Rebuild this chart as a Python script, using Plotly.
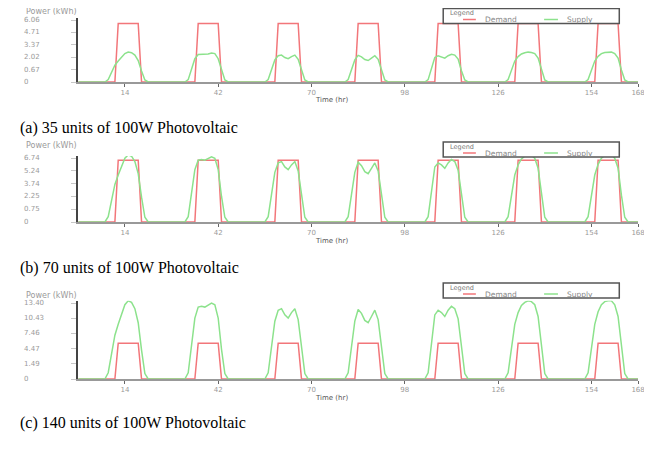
import plotly.graph_objects as go

# ---- data -------------------------------------------------------------
HOURS = list(range(169))          # one week, hourly
PROFILE_START = 8                 # first hour of each day covered by the profiles
TIME_TICKS = [14, 42, 70, 98, 126, 154, 168]

CAPTIONS = [
    "(a) 35 units of 100W Photovoltaic",
    "(b) 70 units of 100W Photovoltaic",
    "(c) 140 units of 100W Photovoltaic",
]
Y_TICK_TEXT = [
    ["0", "0.67", "2.02", "3.37", "4.71", "6.06"],
    ["0", "0.75", "2.25", "3.74", "5.24", "6.74"],
    ["0", "1.49", "4.47", "7.46", "10.43", "13.40"],
]
Y_TICK_STEP = [1.212, 1.348, 2.68]

# demand: same daily shape, hours 8..21
DEMAND_SHAPE = [0, 0, 0, 0, 1, 1, 1, 1, 1, 1, 1, 0, 0, 0]
DEMAND_KWH = [5.71, 6.50, 6.30]

# supply: relative daily shape for each of the 7 days, hours 8..21
SUPPLY_DAY1 = [0, 0.08, 0.35, 0.56, 0.70, 0.84, 0.95, 1.00, 0.98, 0.90, 0.72, 0.37, 0.07, 0]
SUPPLY_DAY2 = [0, 0.08, 0.42, 0.78, 0.92, 0.93, 0.92, 0.94, 0.97, 0.95, 0.78, 0.38, 0.07, 0]
SUPPLY_DAY3 = [0, 0.08, 0.42, 0.74, 0.88, 0.90, 0.82, 0.78, 0.85, 0.90, 0.76, 0.38, 0.07, 0]
SUPPLY_DAY4 = [0, 0.08, 0.42, 0.74, 0.89, 0.84, 0.75, 0.72, 0.80, 0.88, 0.76, 0.38, 0.07, 0]
SUPPLY_DAY5 = [0, 0.08, 0.48, 0.82, 0.88, 0.85, 0.80, 0.88, 0.93, 0.90, 0.77, 0.38, 0.07, 0]
SUPPLY_DAY6 = [0, 0.08, 0.42, 0.70, 0.85, 0.94, 0.98, 1.00, 0.99, 0.95, 0.80, 0.40, 0.07, 0]
SUPPLY_DAY7 = [0, 0.08, 0.42, 0.70, 0.86, 0.95, 0.99, 1.00, 1.00, 0.95, 0.80, 0.40, 0.07, 0]
SUPPLY_DAYS = [SUPPLY_DAY1, SUPPLY_DAY2, SUPPLY_DAY3, SUPPLY_DAY4,
               SUPPLY_DAY5, SUPPLY_DAY6, SUPPLY_DAY7]
SUPPLY_PEAK_KWH = [2.92, 7.07, 13.78]


def week(day_shapes, scale):
    out = [0.0] * len(HOURS)
    for d, shape in enumerate(day_shapes):
        for i, v in enumerate(shape):
            out[24 * d + PROFILE_START + i] = v * scale
    return out


# ---- layout, in page pixels (the page body has an 8px margin) ----------
OFF = 8
W, H = 652 - OFF, 452 - OFF

BASELINE = [82, 222, 379]
STEP_PX = [12.4, 12.8, 15.2]
POWER_Y = [11, 146, 295]
TIME_Y = [100, 241, 398]
CAPTION_Y = [128, 268, 423]
LEGEND_TOP = [8.5, 142, 283]
X_LEFT, X_RIGHT = 79, 645

RED = "rgb(242,118,122)"
GREEN = "rgb(140,226,140)"
GREY_TEXT = "#9a9a9a"
TICK_FONT = dict(family="DejaVu Sans", size=7, color=GREY_TEXT)


def px(x):
    return (x - OFF) / W


def py(y):
    return 1 - (y - OFF) / H


fig = go.Figure()
annotations = []
shapes = []
layout = {}

for p in range(3):
    sfx = "" if p == 0 else str(p + 1)
    xa, ya = "x" + sfx, "y" + sfx
    step = Y_TICK_STEP[p]
    top_steps = 5.15
    b = BASELINE[p]
    top_px = b - top_steps * STEP_PX[p]

    fig.add_trace(go.Scatter(
        x=HOURS, y=week([DEMAND_SHAPE] * 7, DEMAND_KWH[p]), mode="lines",
        name="Demand", line=dict(color=RED, width=1.5),
        xaxis=xa, yaxis=ya, cliponaxis=False, showlegend=False,
    ))
    fig.add_trace(go.Scatter(
        x=HOURS, y=week(SUPPLY_DAYS, SUPPLY_PEAK_KWH[p]), mode="lines",
        name="Supply", line=dict(color=GREEN, width=1.5),
        xaxis=xa, yaxis=ya, cliponaxis=False, showlegend=False,
    ))

    layout["xaxis" + sfx] = dict(
        domain=[px(X_LEFT), px(X_RIGHT)], anchor=ya, range=[0, 168],
        tickvals=TIME_TICKS, ticks="outside", ticklen=3, tickcolor="#666",
        tickfont=TICK_FONT, ticklabeloverflow="allow", showline=True,
        linecolor="#999", linewidth=1.5, showgrid=False, zeroline=False,
        layer="above traces",
    )
    layout["yaxis" + sfx] = dict(
        domain=[py(b), py(top_px)], anchor=xa, range=[0, top_steps * step],
        tickvals=[k * step for k in range(6)], ticks="outside", ticklen=5,
        tickcolor="#c8c8c8", showticklabels=False, showline=True,
        linecolor="#444", linewidth=1.5, showgrid=False, zeroline=False,
    )

    for k, label in enumerate(Y_TICK_TEXT[p]):
        annotations.append(dict(
            xref="paper", yref=ya, x=px(22), y=k * step, text=label,
            showarrow=False, xanchor="left", yanchor="middle", font=TICK_FONT,
        ))
    annotations.append(dict(
        xref="paper", yref="paper", x=px(24), y=py(POWER_Y[p]),
        text="Power (kWh)", showarrow=False, xanchor="left", yanchor="middle",
        font=dict(family="DejaVu Sans", size=8, color=GREY_TEXT),
    ))
    annotations.append(dict(
        xref="paper", yref="paper", x=px(335), y=py(TIME_Y[p]),
        text="Time (hr)", showarrow=False, xanchor="center", yanchor="middle",
        font=dict(family="DejaVu Sans", size=7, color="#555"),
    ))
    annotations.append(dict(
        xref="paper", yref="paper", x=px(18), y=py(CAPTION_Y[p]),
        text=CAPTIONS[p], showarrow=False, xanchor="left", yanchor="middle",
        font=dict(family="Liberation Serif", size=16, color="black"),
    ))

    # legend box
    t = LEGEND_TOP[p]
    shapes.append(dict(type="rect", xref="paper", yref="paper",
                       x0=px(448), x1=px(626), y0=py(t), y1=py(t + 15),
                       line=dict(color="#555", width=1.5), fillcolor="white",
                       layer="above"))
    annotations.append(dict(
        xref="paper", yref="paper", x=px(453), y=py(t + 4.5), text="Legend",
        showarrow=False, xanchor="left", yanchor="middle",
        font=dict(family="DejaVu Sans", size=6.5, color="#777"),
    ))
    for x0, x1, color, name in [(468, 481, RED, "Demand"), (550, 564, GREEN, "Supply")]:
        shapes.append(dict(type="line", xref="paper", yref="paper",
                           x0=px(x0), x1=px(x1), y0=py(t + 11), y1=py(t + 11),
                           line=dict(color=color, width=1.5), layer="above"))
        annotations.append(dict(
            xref="paper", yref="paper", x=px(x1 + 7), y=py(t + 11), text=name,
            showarrow=False, xanchor="left", yanchor="middle",
            font=dict(family="DejaVu Sans", size=7.5, color="#888"),
        ))

fig.update_layout(
    width=W, height=H, margin=dict(l=0, r=0, t=0, b=0),
    plot_bgcolor="white", paper_bgcolor="white",
    annotations=annotations, shapes=shapes, showlegend=False, **layout,
)
fig.write_html("out.html")
